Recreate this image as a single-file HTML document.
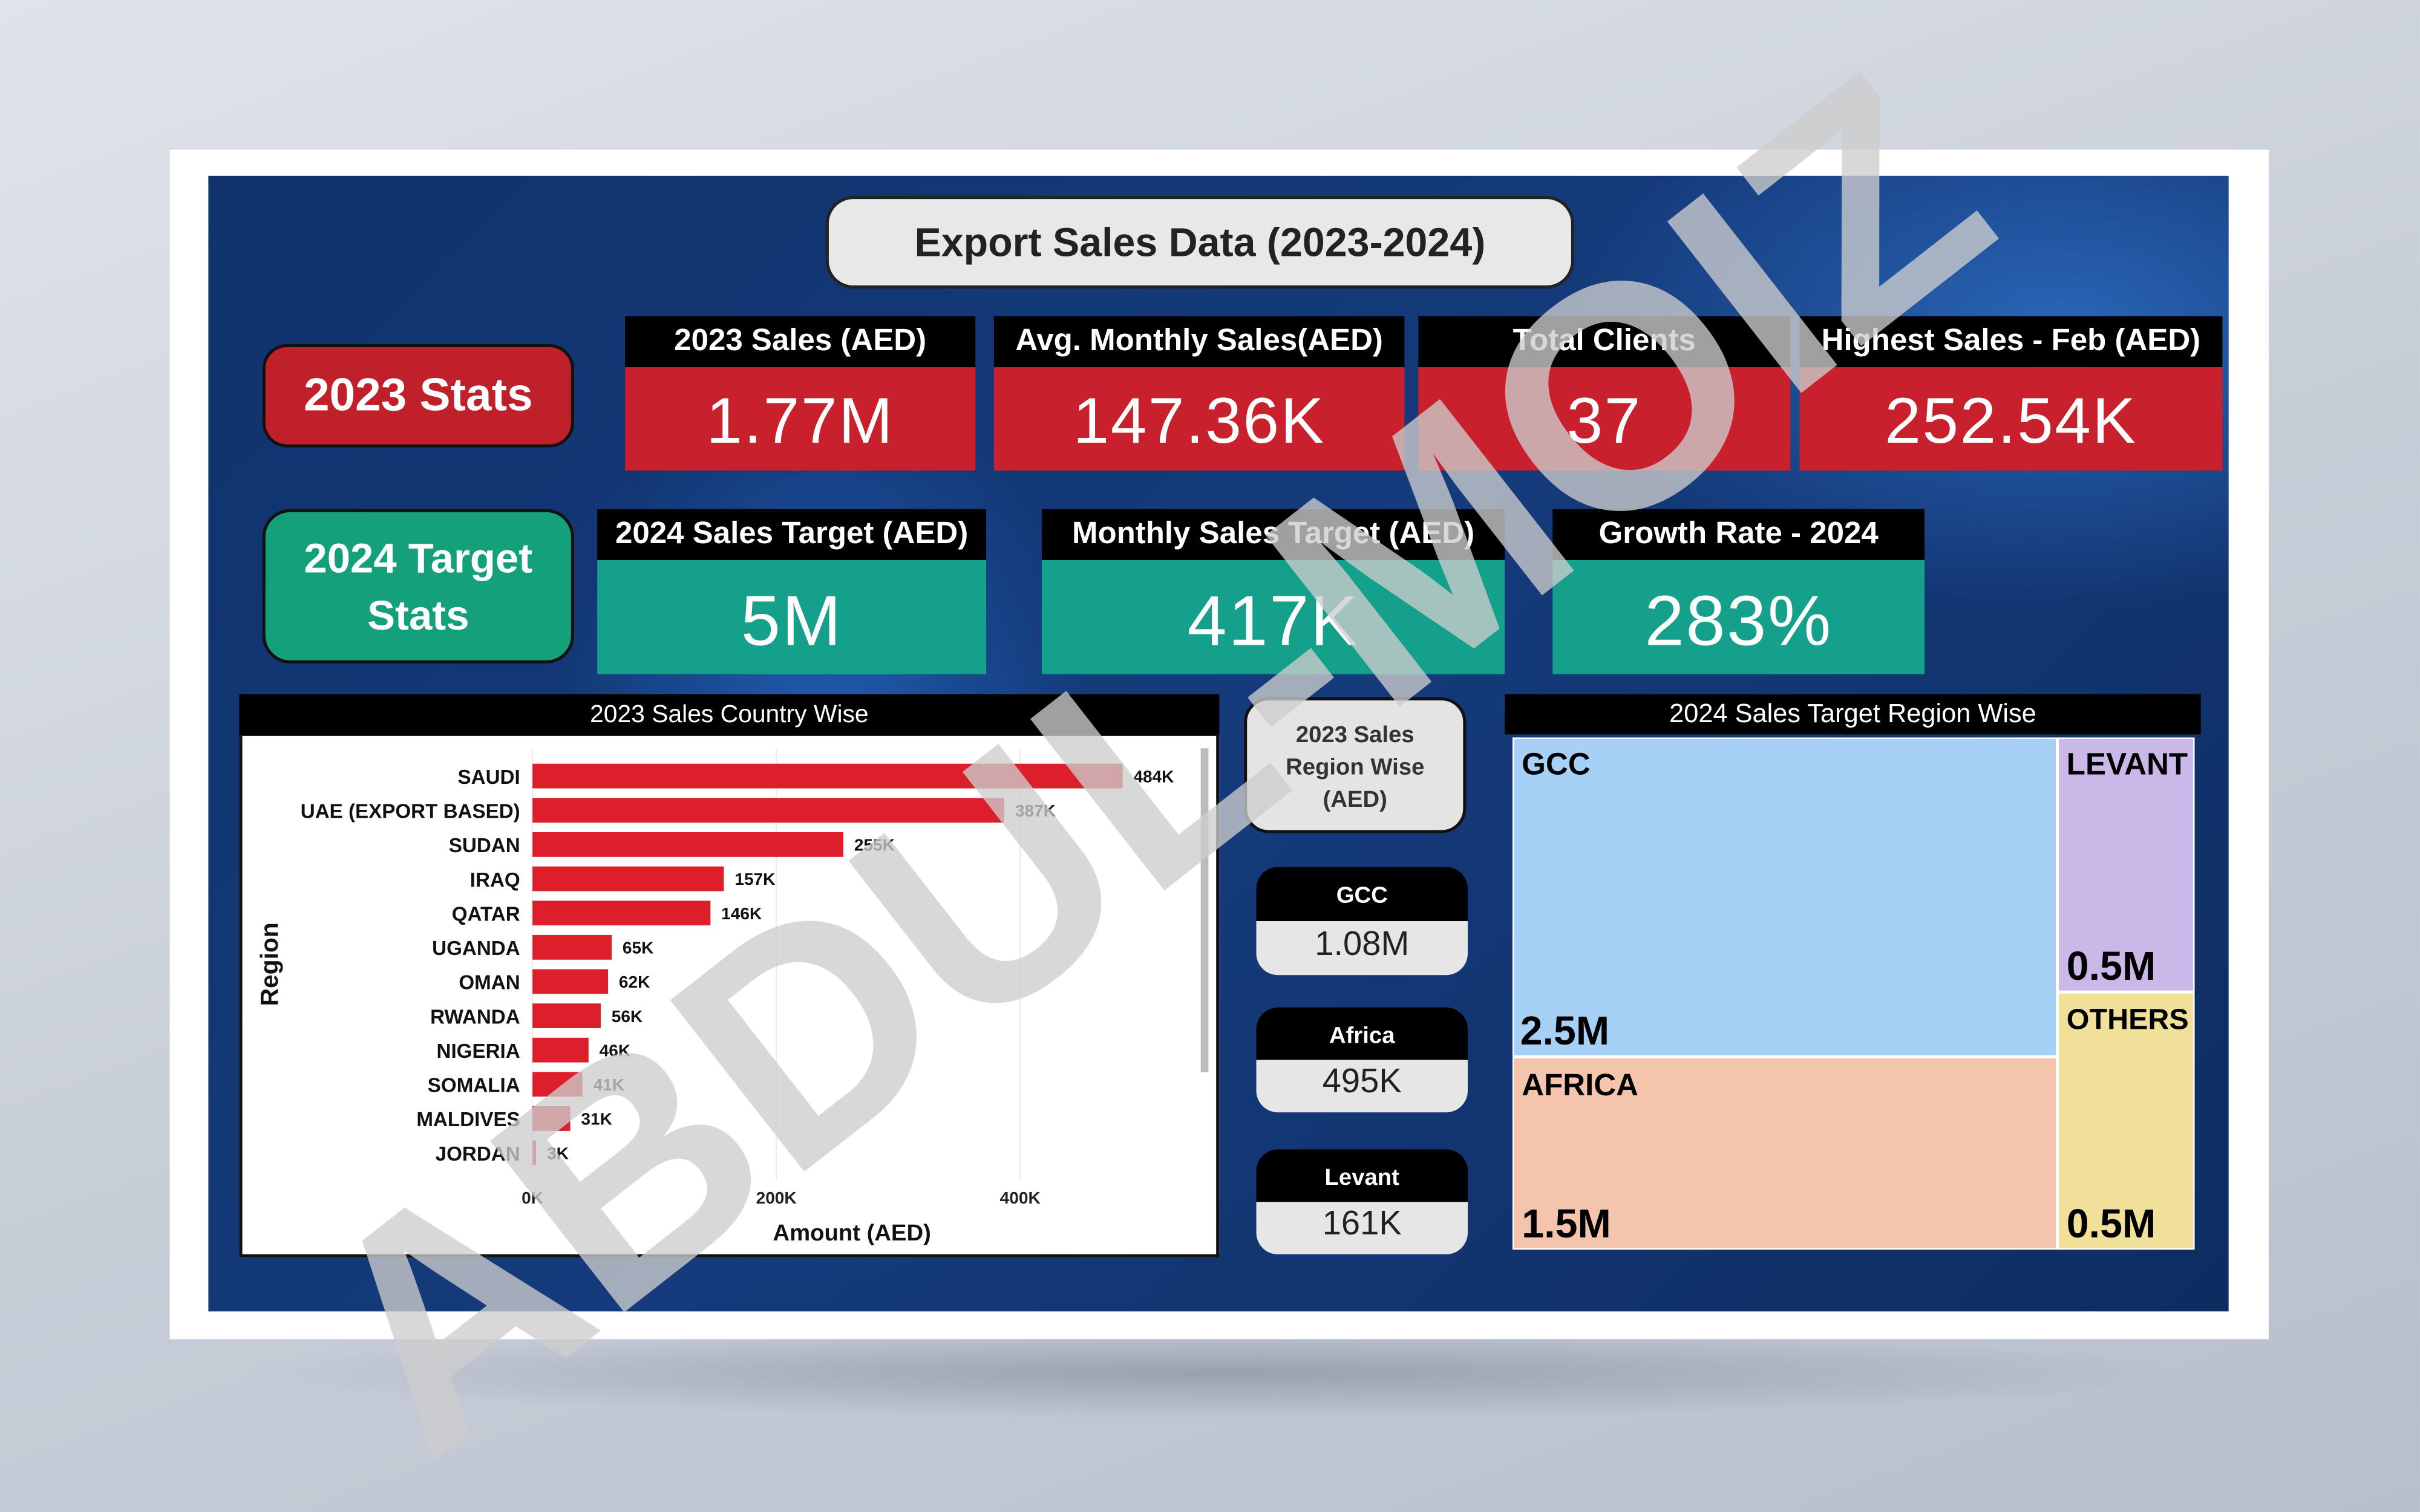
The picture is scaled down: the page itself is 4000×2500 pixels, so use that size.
<!DOCTYPE html>
<html><head><meta charset="utf-8"><style>
html,body{margin:0;padding:0;width:4000px;height:2500px;overflow:hidden}
#wrap{position:absolute;left:0;top:0;width:1568px;height:980px;transform:scale(2.5510);transform-origin:0 0;
background:linear-gradient(160deg,#dfe3ea 0%,#c9cfd9 50%,#b8bfcc 100%);font-family:"Liberation Sans",sans-serif;overflow:hidden}
.abs{position:absolute;box-sizing:border-box}
.hdr{background:#000;color:#fff;font-weight:bold;font-size:20px;text-align:center}
.val{color:#fff;text-align:center;font-size:42px;letter-spacing:1px}
.red{background:#c8202c}.teal{background:#14a08a}
.rc-h{background:#000;color:#fff;font-weight:bold;font-size:15px;text-align:center;border-radius:14px 14px 0 0}
.rc-v{background:#e6e6e6;color:#222;font-size:22px;text-align:center;border-radius:0 0 14px 14px}
.tm{font-weight:bold;color:#000;font-size:20px}
</style></head><body>
<div id="wrap">
<div class="abs" style="left:150px;top:860px;width:1280px;height:60px;background:radial-gradient(ellipse at center,rgba(80,90,110,0.35),rgba(0,0,0,0) 70%)"></div>
<div class="abs" style="left:110px;top:97px;width:1360px;height:771px;background:#fff"></div>
<div class="abs" style="left:135px;top:114px;width:1309px;height:736px;background:radial-gradient(ellipse 240px 400px at 400px 420px,#2466b8 0%,#1a4a94 40%,rgba(20,50,110,0) 75%),radial-gradient(ellipse 450px 260px at 1200px 100px,#2a66b8 0%,rgba(20,50,110,0) 70%),linear-gradient(135deg,#10336c,#153b7c 50%,#0e2c60);overflow:hidden"></div>

<div class="abs" style="left:535px;top:127px;width:485px;height:60px;background:#e8e8e8;border-radius:18px;border:2px solid #222;font-weight:bold;font-size:26px;color:#222;text-align:center;line-height:56px">Export Sales Data (2023-2024)</div>

<div class="abs" style="left:170px;top:223px;width:202px;height:67px;background:#c0202a;border-radius:16px;border:2px solid #111;color:#fff;font-weight:bold;font-size:30px;text-align:center;line-height:63px">2023 Stats</div>
<div class="abs" style="left:170px;top:330px;width:202px;height:100px;background:#13a07a;border-radius:18px;border:2px solid #111;color:#fff;font-weight:bold;font-size:27px;text-align:center;line-height:37px;padding-top:12px">2024 Target<br>Stats</div>

<div class="abs hdr" style="left:405px;top:205px;width:227px;height:33px;line-height:33px">2023 Sales (AED)</div>
<div class="abs val red" style="left:405px;top:238px;width:227px;height:67px;line-height:70px">1.77M</div>
<div class="abs hdr" style="left:644px;top:205px;width:266px;height:33px;line-height:33px">Avg. Monthly Sales(AED)</div>
<div class="abs val red" style="left:644px;top:238px;width:266px;height:67px;line-height:70px">147.36K</div>
<div class="abs hdr" style="left:919px;top:205px;width:241px;height:33px;line-height:33px">Total Clients</div>
<div class="abs val red" style="left:919px;top:238px;width:241px;height:67px;line-height:70px">37</div>
<div class="abs hdr" style="left:1166px;top:205px;width:274px;height:33px;line-height:33px">Highest Sales - Feb (AED)</div>
<div class="abs val red" style="left:1166px;top:238px;width:274px;height:67px;line-height:70px">252.54K</div>

<div class="abs hdr" style="left:387px;top:330px;width:252px;height:33px;line-height:33px">2024 Sales Target (AED)</div>
<div class="abs val teal" style="left:387px;top:363px;width:252px;height:74px;line-height:78px;font-size:46px">5M</div>
<div class="abs hdr" style="left:675px;top:330px;width:300px;height:33px;line-height:33px">Monthly Sales Target (AED)</div>
<div class="abs val teal" style="left:675px;top:363px;width:300px;height:74px;line-height:78px;font-size:46px">417K</div>
<div class="abs hdr" style="left:1006px;top:330px;width:241px;height:33px;line-height:33px">Growth Rate - 2024</div>
<div class="abs val teal" style="left:1006px;top:363px;width:241px;height:74px;line-height:78px;font-size:46px">283%</div>

<div class="abs" style="left:155px;top:450px;width:635px;height:27px;background:#000;color:#fff;font-size:16px;text-align:center;line-height:27px">2023 Sales Country Wise</div>
<div class="abs" style="left:155px;top:477px;width:635px;height:338px;background:#fff;border:2px solid #111;border-top:none">
<svg id="bars" width="635" height="338" style="position:absolute;left:-2px;top:0"></svg>
</div>

<div class="abs" style="left:806px;top:452px;width:144px;height:88px;background:#e4e4e4;border-radius:16px;border:2px solid #111;font-weight:bold;font-size:15px;color:#333;text-align:center;line-height:21px;padding-top:12px">2023 Sales<br>Region Wise<br>(AED)</div>
<div class="abs rc-h" style="left:814px;top:562px;width:137px;height:35px;line-height:38px">GCC</div>
<div class="abs rc-v" style="left:814px;top:597px;width:137px;height:35px;line-height:30px">1.08M</div>
<div class="abs rc-h" style="left:814px;top:653px;width:137px;height:34px;line-height:38px">Africa</div>
<div class="abs rc-v" style="left:814px;top:687px;width:137px;height:34px;line-height:28px">495K</div>
<div class="abs rc-h" style="left:814px;top:745px;width:137px;height:34px;line-height:38px">Levant</div>
<div class="abs rc-v" style="left:814px;top:779px;width:137px;height:34px;line-height:28px">161K</div>

<div class="abs" style="left:975px;top:450px;width:451px;height:26px;background:#000;color:#fff;font-size:17px;text-align:center;line-height:26px">2024 Sales Target Region Wise</div>
<div class="abs" style="left:980px;top:478px;width:442px;height:332px;background:#fff"></div>
<div class="abs tm" style="left:981px;top:479px;width:351px;height:205px;background:#a6d0f5"><span style="position:absolute;left:5px;top:6px">GCC</span><span style="position:absolute;left:4px;bottom:0;font-size:26px">2.5M</span></div>
<div class="abs tm" style="left:981px;top:686px;width:351px;height:123px;background:#f5c4ad"><span style="position:absolute;left:5px;top:7px">AFRICA</span><span style="position:absolute;left:5px;bottom:0;font-size:26px">1.5M</span></div>
<div class="abs tm" style="left:1334px;top:479px;width:87px;height:163px;background:#c9b8e8"><span style="position:absolute;left:5px;top:6px">LEVANT</span><span style="position:absolute;left:5px;bottom:0;font-size:26px">0.5M</span></div>
<div class="abs tm" style="left:1334px;top:644px;width:87px;height:165px;background:#f0e09a"><span style="position:absolute;left:5px;top:7px;font-size:19px">OTHERS</span><span style="position:absolute;left:5px;bottom:0;font-size:26px">0.5M</span></div>

<div class="abs" style="left:745px;top:495px;width:0;height:0;">
<div style="position:absolute;left:0;top:0;transform:translate(-50%,-50%) rotate(-38deg);font-weight:bold;font-size:205px;line-height:205px;color:rgba(205,205,205,0.78);white-space:nowrap">ABDUL-MOIZ</div>
</div>
</div>
<script>
const countries=["SAUDI","UAE (EXPORT BASED)","SUDAN","IRAQ","QATAR","UGANDA","OMAN","RWANDA","NIGERIA","SOMALIA","MALDIVES","JORDAN"];
const sales=[484,387,255,157,146,65,62,56,46,41,31,3];
const valueLabels=["484K","387K","255K","157K","146K","65K","62K","56K","46K","41K","31K","3K"];
const ticks=[0,200,400];
const tickLabels=["0K","200K","400K"];
const svg=document.getElementById('bars');
const NS='http://www.w3.org/2000/svg';
const x0=190,pxPerK=0.79,y0=26,step=22.2,bh=16;
const xs=v=>x0+v*pxPerK, ys=i=>y0+i*step;
function mk(t,a,txt){const e=document.createElementNS(NS,t);for(const k in a)e.setAttribute(k,a[k]);if(txt!==undefined)e.textContent=txt;svg.appendChild(e);return e;}
ticks.forEach((t,i)=>{
 const g=mk('line',{x1:xs(t),x2:xs(t),y1:8,y2:288,stroke:'#eee','stroke-width':1});
 
 
 const l=mk('text',{x:xs(t),y:303,'font-size':11,'font-weight':'bold','text-anchor':'middle',fill:'#222'},tickLabels[i]);
 
 
});
countries.forEach((c,i)=>{
 const y=ys(i);
 const r=mk('rect',{x:xs(0),y:y-bh/2,width:xs(sales[i])-xs(0),height:bh,fill:'#dc1f2a'});
 
 
 const l=mk('text',{x:x0-8,y:y+5,'font-size':13,'font-weight':'bold','text-anchor':'end',fill:'#111'},c);
 
 
 const v=mk('text',{x:xs(sales[i])+7,y:y+4,'font-size':11,'font-weight':'bold',fill:'#111'},valueLabels[i]);
 
 
});
const sb=mk('rect',{x:623,y:8,width:5,height:210,fill:'#bbb'});


const xt=mk('text',{x:397,y:327,'font-size':15,'font-weight':'bold','text-anchor':'middle',fill:'#111'},'Amount (AED)');


const yt=mk('text',{x:0,y:0,'font-size':16,'font-weight':'bold','text-anchor':'middle',fill:'#111',transform:'translate(25,148) rotate(-90)'},'Region');


</script>
</body></html>
